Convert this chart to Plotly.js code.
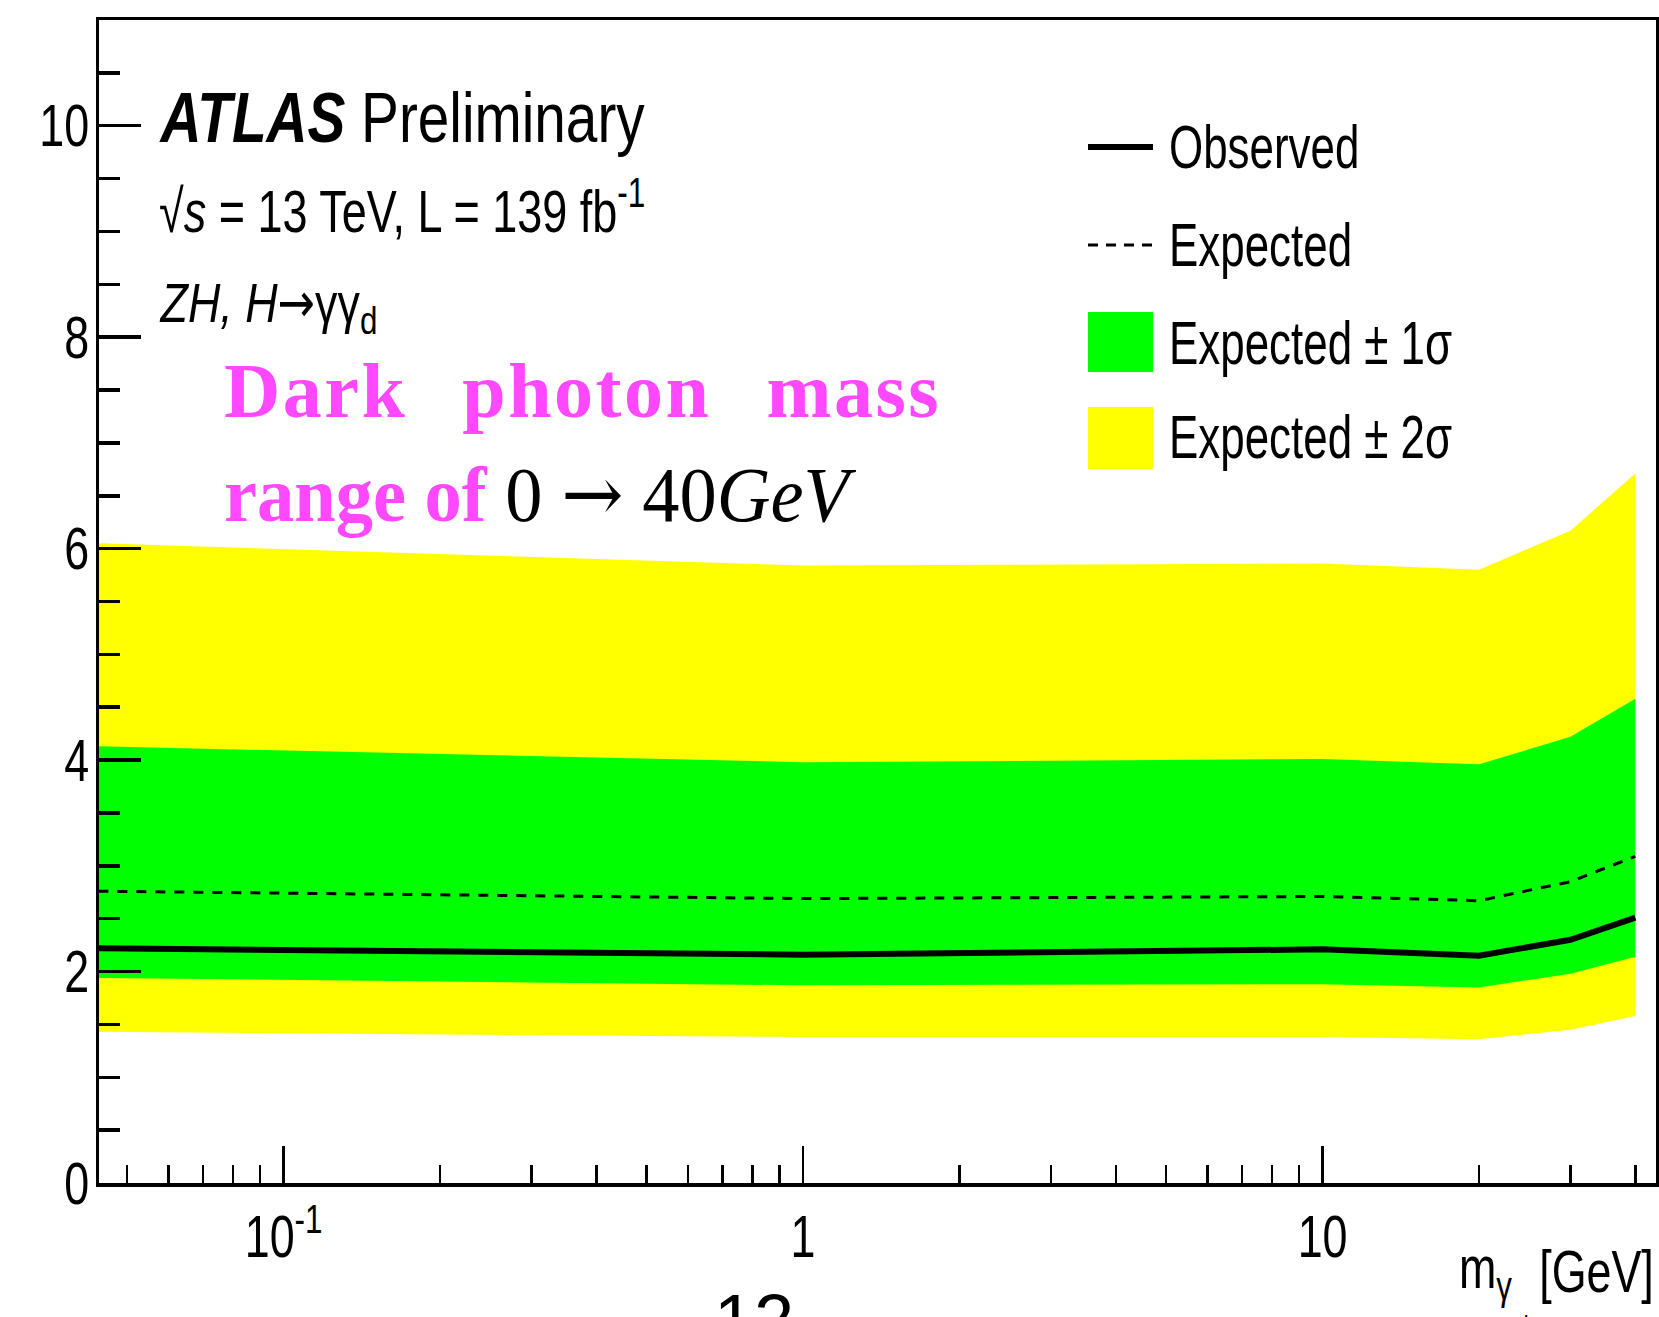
<!DOCTYPE html>
<html>
<head>
<meta charset="utf-8">
<script src="https://cdn.plot.ly/plotly-3.0.1.min.js"></script>
<style>
  html, body { margin: 0; padding: 0; background: #ffffff; }
  #chart { width: 1659px; height: 1317px; }
</style>
</head>
<body>
<div id="chart"></div>
<script>
// Dark photon mass points (GeV) and the 95% CL limits at each point
const massGeV   = [0.044, 1, 10, 20, 30, 40];
const observed  = [2.22, 2.16, 2.21, 2.15, 2.30, 2.51];
const expected  = [2.76, 2.69, 2.71, 2.67, 2.85, 3.09];
const plus1sig  = [4.13, 3.98, 4.01, 3.96, 4.22, 4.58];
const minus1sig = [1.94, 1.87, 1.88, 1.85, 1.98, 2.14];
const plus2sig  = [6.05, 5.84, 5.86, 5.80, 6.17, 6.71];
const minus2sig = [1.43, 1.38, 1.38, 1.36, 1.45, 1.58];

// Axis ticks
const xMajorVals = [0.1, 1, 10];
const xMajorText = ['10<sup>-1</sup>', '1', '10'];
const xMinorVals = [0.05, 0.06, 0.07, 0.08, 0.09,
                    0.2, 0.3, 0.4, 0.5, 0.6, 0.7, 0.8, 0.9,
                    2, 3, 4, 5, 6, 7, 8, 9, 20, 30, 40];
const yMajorVals = [0, 2, 4, 6, 8, 10];

// Legend entries
const legendLabels = ['Observed', 'Expected', 'Expected \u00b1 1\u03c3', 'Expected \u00b1 2\u03c3'];

const YELLOW = '#ffff00';
const GREEN = '#00ff00';
const PINK = '#ff48ff';
const SANS = 'Liberation Sans, Arial, Helvetica, sans-serif';
const SERIF = 'Liberation Serif, Times New Roman, DejaVu Serif, serif';

// plot-area edges in page pixels, used to place decorations in paper units
const L = 99, R = 1656, T = 20, B = 1183;
const px = x => (x - L) / (R - L);
const py = y => (B - y) / (B - T);

// closed band polygon: upper edge left->right, lower edge right->left
function band(upper, lower) {
  return {
    x: massGeV.concat(massGeV.slice().reverse()),
    y: upper.concat(lower.slice().reverse())
  };
}
const band2 = band(plus2sig, minus2sig);
const band1 = band(plus1sig, minus1sig);

const traces = [
  { x: band2.x, y: band2.y, type: 'scatter', mode: 'lines', fill: 'toself',
    fillcolor: YELLOW, line: { width: 0, color: YELLOW }, name: legendLabels[3], hoverinfo: 'skip' },
  { x: band1.x, y: band1.y, type: 'scatter', mode: 'lines', fill: 'toself',
    fillcolor: GREEN, line: { width: 0, color: GREEN }, name: legendLabels[2], hoverinfo: 'skip' },
  { x: massGeV, y: expected, type: 'scatter', mode: 'lines', name: legendLabels[1],
    line: { color: 'black', width: 3, dash: '10px,9px' } },
  { x: massGeV, y: observed, type: 'scatter', mode: 'lines', name: legendLabels[0],
    line: { color: 'black', width: 6 } }
];

// annotation list, with horizontal condensing factor per entry (1 = none)
const notes = [];
const squeezeOf = [];
function note(opts, k) { notes.push(opts); squeezeOf.push(k); }

const ARROW_SANS = '<span style="font-family:DejaVu Sans">\u2192</span>';
const ARROW_SERIF = '<span style="font-family:DejaVu Serif">\u2192</span>';

// experiment label block
note({ text: '<b><i>ATLAS</i></b> Preliminary', x: px(157), y: py(118), xanchor: 'left', align: 'left',
       yanchor: 'middle', font: { family: SANS, size: 70, color: 'black' } }, 0.81);
note({ text: '\u221a<i>s</i> = 13 TeV, L = 139 fb<sup>-1</sup>', x: px(157), y: py(207), xanchor: 'left', align: 'left',
       yanchor: 'middle', font: { family: SANS, size: 60, color: 'black' } }, 0.75);
note({ text: '<i>ZH, H</i>' + ARROW_SANS + '\u03b3\u03b3<sub>d</sub>', x: px(157), y: py(306), xanchor: 'left', align: 'left',
       yanchor: 'middle', font: { family: SANS, size: 56, color: 'black' } }, 0.8);

// highlighted mass-range caption
note({ text: '<b>Dark photon mass</b>', x: px(222), y: py(390), xanchor: 'left', align: 'left',
       yanchor: 'middle', font: { family: SERIF, size: 78, color: PINK } }, 1);
const darkIdx = notes.length - 1;
note({ text: '<b><span style="color:' + PINK + '">range of</span></b> 0 ' + ARROW_SERIF + ' 40<i>GeV</i>', x: px(222), y: py(494),
       xanchor: 'left', align: 'left', yanchor: 'middle', font: { family: SERIF, size: 78, color: 'black' } }, 0.955);

// legend labels
const legendY = [147, 245, 343, 437];
legendLabels.forEach((t, i) => {
  note({ text: t, x: px(1167), y: py(legendY[i]), xanchor: 'left', align: 'left', yanchor: 'middle',
         font: { family: SANS, size: 61, color: 'black' } }, 0.72);
});

// x-axis title pieces
note({ text: 'm<sub>\u03b3</sub>', x: px(1457), y: py(1272), xanchor: 'left', align: 'left', yanchor: 'middle',
       font: { family: SANS, size: 59, color: 'black' } }, 0.76);
note({ text: 'd', x: px(1514), y: py(1326), xanchor: 'left', align: 'left', yanchor: 'middle',
       font: { family: SANS, size: 30, color: 'black' } }, 0.76);
note({ text: '[GeV]', x: px(1656), y: py(1272), xanchor: 'right', align: 'right', yanchor: 'middle',
       font: { family: SANS, size: 59, color: 'black' } }, 0.76);

// page number
note({ text: '12', x: px(754), y: py(1278), xanchor: 'center', yanchor: 'top',
       font: { family: SANS, size: 72, color: 'black' } }, 1);

notes.forEach(n => { n.xref = 'paper'; n.yref = 'paper'; n.showarrow = false; });

// legend swatches
const shapes = [
  { type: 'line', xref: 'paper', yref: 'paper', x0: px(1088), x1: px(1153), y0: py(147), y1: py(147),
    line: { color: 'black', width: 6 } },
  { type: 'line', xref: 'paper', yref: 'paper', x0: px(1088), x1: px(1153), y0: py(245), y1: py(245),
    line: { color: 'black', width: 3, dash: '10px,8px' } },
  { type: 'rect', xref: 'paper', yref: 'paper', x0: px(1088), x1: px(1153), y0: py(312), y1: py(372),
    fillcolor: GREEN, line: { width: 0 } },
  { type: 'rect', xref: 'paper', yref: 'paper', x0: px(1088), x1: px(1153), y0: py(407), y1: py(469),
    fillcolor: YELLOW, line: { width: 0 } }
];

const layout = {
  width: 1659, height: 1317,
  margin: { l: L, r: 1659 - R, t: T, b: 1317 - B, pad: 0 },
  paper_bgcolor: '#ffffff', plot_bgcolor: '#ffffff',
  showlegend: false,
  font: { family: SANS, color: 'black' },
  xaxis: {
    type: 'log', range: [-1.3553, 1.6418],
    tickmode: 'array', tickvals: xMajorVals, ticktext: xMajorText,
    ticks: 'inside', ticklen: 37, tickwidth: 2.5, tickcolor: 'black',
    minor: { tickmode: 'array', tickvals: xMinorVals, ticks: 'inside', ticklen: 18, tickwidth: 2.5, tickcolor: 'black', showgrid: false },
    showgrid: false, zeroline: false,
    showline: true, linecolor: 'black', linewidth: 3.5, mirror: true,
    tickfont: { family: SANS, size: 59, color: 'black' },
    ticklabelstandoff: 0
  },
  yaxis: {
    range: [0, 11],
    tickmode: 'array', tickvals: yMajorVals,
    ticks: 'inside', ticklen: 42, tickwidth: 3.5, tickcolor: 'black',
    minor: { dtick: 0.5, tick0: 0, ticks: 'inside', ticklen: 21, tickwidth: 3.5, tickcolor: 'black', showgrid: false },
    showgrid: false, zeroline: false,
    showline: true, linecolor: 'black', linewidth: 3, mirror: true,
    tickfont: { family: SANS, size: 59, color: 'black' },
    ticklabelstandoff: -5
  },
  annotations: notes,
  shapes: shapes
};

// condense a text element horizontally around its anchor point
function squeeze(el, k) {
  if (k === 1) return;
  const bb = el.getBBox();
  const a = el.getAttribute('text-anchor') || window.getComputedStyle(el).textAnchor || 'start';
  const cx = a === 'middle' ? bb.x + bb.width / 2 : (a === 'end' ? bb.x + bb.width : bb.x);
  const prev = el.getAttribute('transform') || '';
  el.setAttribute('transform', prev + ' translate(' + cx + ' 0) scale(' + k + ' 1) translate(' + (-cx) + ' 0)');
}

Plotly.newPlot('chart', traces, layout, { displayModeBar: false, staticPlot: true }).then(gd => {
  gd.querySelectorAll('.xtick text, .ytick text').forEach(t => squeeze(t, 0.76));
  gd.querySelectorAll('.infolayer g.annotation').forEach(g => {
    const i = +g.getAttribute('data-index');
    const t = g.querySelector('text.annotation-text');
    if (!t) return;
    if (i === darkIdx) {
      t.style.letterSpacing = '2.5px';
      t.style.wordSpacing = '33px';
    }
    squeeze(t, squeezeOf[i]);
  });
});
</script>
</body>
</html>
